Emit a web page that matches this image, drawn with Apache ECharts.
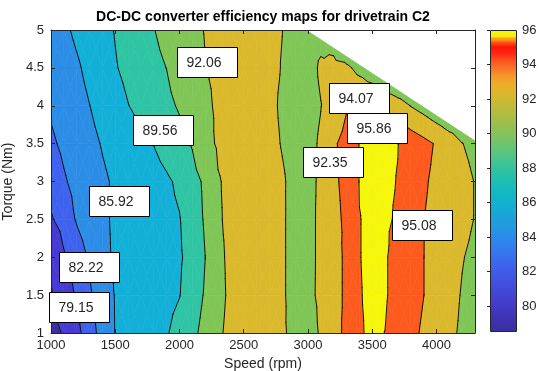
<!DOCTYPE html>
<html>
<head>
<meta charset="utf-8">
<script src="https://cdn.jsdelivr.net/npm/echarts@6/dist/echarts.min.js"></script>
<style>
  html, body { margin: 0; padding: 0; background: #ffffff; }
  #chart { width: 539px; height: 371px; }
</style>
</head>
<body>
<div id="chart"></div>
<script>
// Measurement grid: motor speed (rpm) x torque (Nm)
const speeds = [1000, 1100, 1200, 1300, 1400, 1500, 1600, 1700, 1800, 1900,
                2000, 2100, 2200, 2300, 2400, 2500, 2600, 2700, 2800, 2900,
                3000, 3100, 3200, 3300, 3400, 3500, 3600, 3700, 3800, 3900,
                4000, 4100, 4200, 4300];
const torques = [1, 1.5, 2, 2.5, 3, 3.5, 4, 4.5, 5];

// DC-DC converter efficiency (%), one row per torque value
const efficiency = [
  [78.55, 79.3, 81.64, 83.32, 84.72, 85.96, 86.37, 86.79, 87.21, 87.62, 88.31, 89.11, 90.15, 91.78, 92.5, 92.66, 92.96, 92.57, 92.19, 91.8, 91.1, 92.3, 92.72, 94.9, 95.78, 96.0, 95.85, 95.2, 94.5, 93.83, 93.11, 92.41, 91.81, 91.3],
  [78.9, 80.57, 82.59, 83.82, 85.02, 86.0, 86.34, 86.68, 87.02, 87.35, 87.69, 88.63, 89.74, 91.55, 92.4, 92.62, 93.0, 92.61, 92.21, 91.64, 91.63, 92.4, 93.0, 94.6, 95.82, 96.0, 95.98, 95.4, 94.75, 94.09, 93.35, 92.61, 91.95, 91.5],
  [79.6, 81.98, 83.2, 84.29, 85.6, 86.08, 86.38, 86.67, 86.97, 87.27, 87.57, 88.27, 89.55, 91.7, 92.4, 92.64, 93.0, 92.61, 92.21, 91.64, 91.62, 92.37, 93.0, 94.6, 95.84, 96.0, 95.98, 95.4, 94.75, 94.09, 93.44, 92.79, 92.14, 91.7],
  [82.0, 83.11, 84.22, 84.94, 85.67, 86.12, 86.43, 86.74, 87.05, 87.36, 87.67, 88.6, 89.77, 91.89, 92.4, 92.64, 93.0, 92.61, 92.21, 91.64, 91.62, 92.37, 93.45, 94.5, 95.84, 96.0, 96.0, 95.75, 94.92, 94.1, 93.57, 93.05, 92.53, 92.0],
  [83.1, 83.9, 84.52, 85.1, 85.68, 86.12, 86.47, 86.81, 87.16, 87.51, 88.02, 88.86, 89.89, 91.95, 92.4, 92.7, 92.95, 92.6, 92.2, 91.68, 91.65, 92.3, 93.72, 94.6, 95.9, 96.0, 96.0, 95.83, 95.01, 94.29, 93.69, 93.14, 92.6, 92.0],
  [83.8, 84.38, 84.94, 85.49, 86.02, 86.46, 86.9, 87.33, 87.78, 88.4, 89.01, 89.7, 91.4, 92.3, 92.6, 92.9, 92.8, 92.4, 91.99, 91.6, 91.55, 92.28, 93.86, 94.6, 95.9, 96.0, 96.0, 95.88, 95.26, 94.6, 93.9, 93.0, 92.1, 91.6],
  [84.3, 84.83, 85.37, 85.9, 86.5, 87.1, 87.7, 88.2, 88.68, 89.17, 89.74, 90.66, 91.75, 92.3, 92.6, 92.8, 92.7, 92.35, 91.88, 91.5, 91.45, 92.02, 92.8, 93.94, 93.9, 93.9, 93.7, 93.0, 92.0, 91.3, 90.5, 90.0, 90.0, 90.0],
  [84.6, 85.15, 85.7, 86.32, 86.97, 87.63, 88.14, 88.62, 89.1, 89.58, 90.39, 91.2, 92.01, 92.3, 92.55, 92.7, 92.6, 92.35, 92.01, 91.6, 91.4, 92.3, 92.6, 92.4, 91.55, 90.8, 89.6, 88.5, 88.5, 88.5, 88.5, 88.5, 88.5, 88.5],
  [84.9, 85.61, 86.22, 86.75, 87.28, 87.82, 88.38, 88.94, 89.5, 90.17, 90.86, 91.55, 92.15, 92.35, 92.5, 92.55, 92.5, 92.3, 92.07, 91.6, 91.5, 91.5, 90.9, 89.0, 89.0, 89.0, 89.0, 89.0, 89.0, 89.0, 89.0, 89.0, 89.0, 89.0]
];

// Contour levels (%) and the fill colour of each band between them
const levels = [79.15, 82.22, 84.07, 85.92, 87.74, 89.56, 92.06, 94.07, 95.86];
const bandColors = ['#3c2fa0', '#4639d4', '#3e62ee', '#2b8de6', '#12b0d8',
                    '#2fc4a4', '#80c656', '#dbb92c', '#fd5a1d', '#f6f60c'];

// Maximum torque envelope of the drivetrain
const maxTorqueSpeed = [2990, 4300];
const maxTorque = [5.0, 3.54];

// Efficiency labels placed on the map
const labelSpeed = [1220, 1294, 1528, 1873, 2214, 3400, 3537, 3197, 3891];
const labelTorque = [1.34, 1.875, 2.748, 3.678, 4.584, 4.104, 3.708, 3.26, 2.42];
const labelText = ['79.15', '82.22', '85.92', '89.56', '92.06', '94.07', '95.86', '92.35', '95.08'];

// Tick values
const speedTicks = [1000, 1500, 2000, 2500, 3000, 3500, 4000];
const colorbarTicks = [80, 82, 84, 86, 88, 90, 92, 94, 96];

// Colour scale shown in the colour bar
const effMin = 78.55, effMax = 96;
const colormapValues = [78.55, 79.5, 80.5, 81.5, 82.5, 83.5, 84.5, 85.5, 86.5, 87.5, 88.5, 89.5,
                        90.5, 91.5, 92.2, 92.8, 93.3, 93.8, 94.2, 94.6, 95.0, 95.25, 95.4, 95.55, 95.62, 96.0];
const colormapColors = ['#3b2e9c', '#4034b8', '#4341d0', '#4152e2', '#3c66ee', '#317ff0', '#2596e2', '#17a8d6',
                        '#10b8c6', '#22c0ac', '#46c590', '#72c46a', '#98c04c', '#bcbb3a', '#d8b82e', '#ebb02b',
                        '#f59a2a', '#fb7326', '#fe5520', '#ff2a12', '#ff1408', '#ff4a14', '#ff8a18', '#ffb014',
                        '#f8ec0e', '#f8f80d'];

const FONT = '"Liberation Sans", Arial, Helvetica, sans-serif';
const INK = '#262626';

// ---- split the grid into triangles (4 per cell around the cell centre)
function node(i, j) { return [speeds[j], torques[i], efficiency[i][j]]; }
const triangles = [];
for (let i = 0; i < torques.length - 1; i++) {
  for (let j = 0; j < speeds.length - 1; j++) {
    const a = node(i, j), b = node(i, j + 1), c = node(i + 1, j + 1), d = node(i + 1, j);
    const m = [(a[0] + b[0]) / 2, (a[1] + d[1]) / 2, (a[2] + b[2] + c[2] + d[2]) / 4];
    triangles.push([a, b, m], [b, c, m], [c, d, m], [d, a, m]);
  }
}

// keep the part of a polygon above (or below) a level, linear in each triangle
function clipPoly(poly, level, keepAbove) {
  const out = [];
  for (let k = 0; k < poly.length; k++) {
    const p = poly[k], q = poly[(k + 1) % poly.length];
    const pin = keepAbove ? p[2] >= level : p[2] <= level;
    const qin = keepAbove ? q[2] >= level : q[2] <= level;
    if (pin) out.push(p);
    if (pin !== qin) {
      const f = (level - p[2]) / (q[2] - p[2]);
      out.push([p[0] + f * (q[0] - p[0]), p[1] + f * (q[1] - p[1]), level]);
    }
  }
  return out;
}

const bandPolys = [];
triangles.forEach(tri => {
  for (let b = 0; b <= levels.length; b++) {
    let poly = tri;
    if (b > 0) poly = clipPoly(poly, levels[b - 1], true);
    if (poly.length >= 3 && b < levels.length) poly = clipPoly(poly, levels[b], false);
    if (poly.length >= 3) bandPolys.push({ band: b, pts: poly });
  }
});

const contourSegs = [];
triangles.forEach(tri => {
  levels.forEach(level => {
    const pts = [];
    for (let k = 0; k < 3; k++) {
      const p = tri[k], q = tri[(k + 1) % 3];
      if ((p[2] >= level) !== (q[2] >= level)) {
        const f = (level - p[2]) / (q[2] - p[2]);
        pts.push([p[0] + f * (q[0] - p[0]), p[1] + f * (q[1] - p[1])]);
      }
    }
    if (pts.length === 2) contourSegs.push(pts);
  });
});

const chart = echarts.init(document.getElementById('chart'), null, { renderer: 'canvas' });

const axisLineStyle = { show: true, onZero: false, lineStyle: { color: INK, width: 1 } };
const labelStyle = { fontFamily: FONT, fontSize: 13, color: INK, formatter: v => String(v) };

const option = {
  animation: false,
  backgroundColor: '#ffffff',
  graphic: [{
    type: 'text', x: 263, y: 17, z: 10,
    style: {
      text: 'DC-DC converter efficiency maps for drivetrain C2',
      fill: '#000000', font: 'bold 14px ' + FONT, align: 'center', verticalAlign: 'middle'
    }
  }],
  grid: [
    { left: 51, top: 30, width: 424, height: 303, containLabel: false, outerBoundsMode: 'none' },
    { left: 490, top: 30, width: 26, height: 301, containLabel: false, outerBoundsMode: 'none' }
  ],
  xAxis: [
    {
      gridIndex: 0, type: 'value', min: 1000, max: 4300, position: 'bottom', z: 5,
      name: 'Speed (rpm)', nameLocation: 'middle', nameGap: 23,
      nameTextStyle: { fontFamily: FONT, fontSize: 14, color: INK },
      axisLine: axisLineStyle,
      axisTick: { show: true, inside: true, length: 4, customValues: speedTicks, lineStyle: { color: INK } },
      axisLabel: Object.assign({ customValues: speedTicks, margin: 6 }, labelStyle),
      splitLine: { show: false }
    },
    {
      gridIndex: 0, type: 'value', min: 1000, max: 4300, position: 'top', z: 5,
      axisLine: axisLineStyle,
      axisTick: { show: true, inside: true, length: 4, customValues: speedTicks, lineStyle: { color: INK } },
      axisLabel: { show: false },
      splitLine: { show: false }
    },
    {
      gridIndex: 1, type: 'value', min: 0, max: 1, show: false
    }
  ],
  yAxis: [
    {
      gridIndex: 0, type: 'value', min: 1, max: 5, interval: 0.5, position: 'left', z: 5,
      name: 'Torque (Nm)', nameLocation: 'middle', nameGap: 26, nameRotate: 90,
      nameTextStyle: { fontFamily: FONT, fontSize: 14, color: INK },
      axisLine: axisLineStyle,
      axisTick: { show: true, inside: true, length: 4, lineStyle: { color: INK } },
      axisLabel: Object.assign({ margin: 7 }, labelStyle),
      splitLine: { show: false }
    },
    {
      gridIndex: 0, type: 'value', min: 1, max: 5, interval: 0.5, position: 'right', z: 5,
      axisLine: axisLineStyle,
      axisTick: { show: true, inside: true, length: 4, lineStyle: { color: INK } },
      axisLabel: { show: false },
      splitLine: { show: false }
    },
    {
      gridIndex: 1, type: 'value', min: effMin, max: effMax, position: 'right', z: 5,
      axisLine: { show: false },
      axisTick: { show: true, inside: true, length: 3, customValues: colorbarTicks, lineStyle: { color: INK } },
      axisLabel: Object.assign({ customValues: colorbarTicks, margin: 6 }, labelStyle),
      splitLine: { show: false }
    }
  ],
  series: [
    {
      // filled efficiency bands
      type: 'custom', xAxisIndex: 0, yAxisIndex: 0, z: 2, clip: true, silent: true,
      data: [[speeds[0], torques[0]]],
      renderItem: (params, api) => ({
        type: 'group',
        children: bandPolys.map(bp => ({
          type: 'polygon',
          shape: { points: bp.pts.map(p => api.coord([p[0], p[1]])) },
          style: { fill: bandColors[bp.band], stroke: bandColors[bp.band], lineWidth: 0.6 }
        }))
      })
    },
    {
      // contour lines
      type: 'custom', xAxisIndex: 0, yAxisIndex: 0, z: 3, clip: true, silent: true,
      data: [[speeds[0], torques[0]]],
      renderItem: (params, api) => ({
        type: 'group',
        children: contourSegs.map(s => {
          const p = api.coord(s[0]), q = api.coord(s[1]);
          return {
            type: 'line',
            shape: { x1: p[0], y1: p[1], x2: q[0], y2: q[1] },
            style: { stroke: '#111111', lineWidth: 1, lineCap: 'round' }
          };
        })
      })
    },
    {
      // region beyond the maximum torque envelope
      type: 'custom', xAxisIndex: 0, yAxisIndex: 0, z: 4, clip: true, silent: true,
      data: [[maxTorqueSpeed[0], maxTorque[0]]],
      renderItem: (params, api) => {
        const pts = maxTorqueSpeed.map((s, k) => api.coord([s, maxTorque[k]]));
        pts.push(api.coord([speeds[speeds.length - 1], torques[torques.length - 1]]));
        return { type: 'polygon', shape: { points: pts }, style: { fill: '#ffffff' } };
      }
    },
    {
      // value labels
      type: 'custom', xAxisIndex: 0, yAxisIndex: 0, z: 6, clip: false, silent: true,
      data: labelSpeed.map((s, k) => [s, labelTorque[k]]),
      renderItem: (params, api) => {
        const p = api.coord([api.value(0), api.value(1)]);
        const x0 = Math.round(p[0] - 30) + 0.5, y0 = Math.round(p[1] - 15) + 0.5;
        return {
          type: 'group',
          children: [
            { type: 'rect', shape: { x: x0, y: y0, width: 60, height: 30 },
              style: { fill: '#ffffff', stroke: '#000000', lineWidth: 1 } },
            { type: 'text', x: x0 + 9, y: y0 + 15.5,
              style: { text: labelText[params.dataIndex], fill: INK, font: '14px ' + FONT,
                       align: 'left', verticalAlign: 'middle' } }
          ]
        };
      }
    },
    {
      // colour bar
      type: 'custom', xAxisIndex: 2, yAxisIndex: 2, z: 2, clip: false, silent: true,
      data: [[0, effMin]],
      renderItem: (params, api) => {
        const lo = api.coord([0, effMin]), hi = api.coord([1, effMax]);
        const stops = colormapValues.map((v, k) => ({
          offset: (v - effMin) / (effMax - effMin), color: colormapColors[k]
        }));
        return {
          type: 'rect',
          shape: { x: Math.round(lo[0]) + 0.5, y: Math.round(hi[1]) + 0.5,
                   width: Math.round(hi[0] - lo[0]), height: Math.round(lo[1] - hi[1]) },
          style: {
            fill: { type: 'linear', x: 0, y: 1, x2: 0, y2: 0, colorStops: stops },
            stroke: INK, lineWidth: 1
          }
        };
      }
    }
  ]
};

chart.setOption(option);
</script>
</body>
</html>
